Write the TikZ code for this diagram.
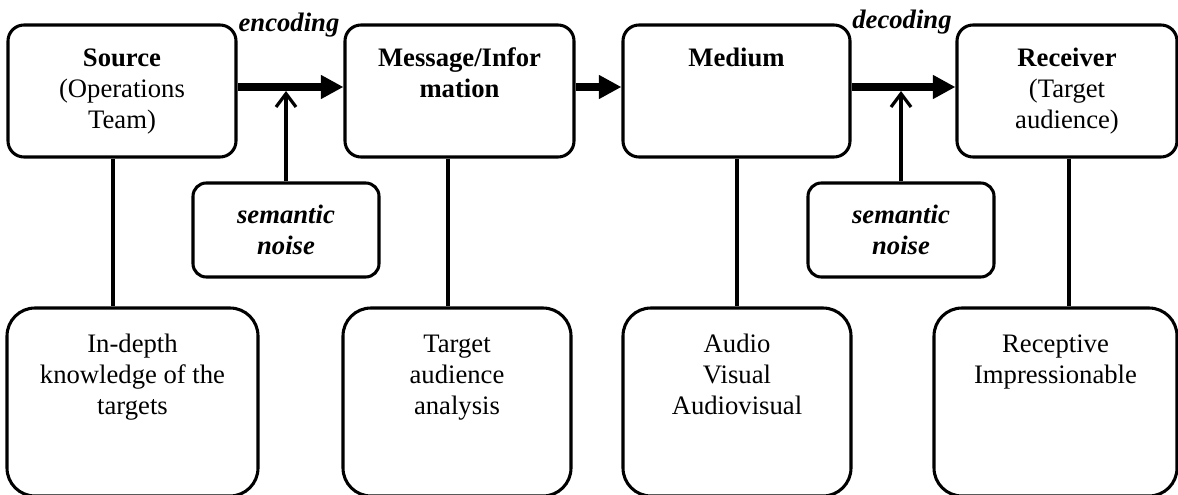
\documentclass[tikz,border=0pt]{standalone}
\usepackage{fontspec}
\setmainfont{Liberation Serif}
\usetikzlibrary{arrows.meta}
\begin{document}
\begin{tikzpicture}[x=0.75pt,y=-0.75pt,
  every node/.style={font=\fontsize{20pt}{23.25pt}\selectfont},
  topbox/.style={draw,line width=2.3pt,rounded corners=12pt,minimum height=99pt,inner sep=0pt},
  botbox/.style={draw,line width=2.3pt,rounded corners=21pt,minimum height=141pt,inner sep=0pt},
  noisebox/.style={draw,line width=2.3pt,rounded corners=10pt,minimum width=139.5pt,minimum height=70.5pt,inner sep=0pt,align=center,font=\fontsize{20pt}{23.25pt}\selectfont\bfseries\itshape},
  boxtext/.style={anchor=north,inner sep=0pt,align=center},
  bigarrow/.style={line width=6pt,-{Triangle[length=17pt,width=17pt]}},
  link/.style={line width=2.4pt},
  noisearrow/.style={line width=2.4pt,-{Straight Barb[length=10pt,width=15pt]}},
  steplabel/.style={inner sep=0pt,anchor=base,font=\fontsize{20pt}{23.25pt}\selectfont\bfseries\itshape}]
\useasboundingbox (0,0) rectangle (1178,495);
\clip (0,0) rectangle (1178,495);
% top boxes
\node[topbox,minimum width=171pt] (src) at (122,91) {};
\node[topbox,minimum width=171.75pt] (msg) at (459.5,91) {};
\node[topbox,minimum width=170.25pt] (med) at (736.5,91) {};
\node[topbox,minimum width=165pt] (rcv) at (1067,91) {};
\node[boxtext] (srct) at ([yshift=-17.25pt]src.north) {\rule{0pt}{15pt}\textbf{Source}\\(Operations\\Team)};
\node[boxtext] (msgt) at ([yshift=-17.25pt]msg.north) {\rule{0pt}{15pt}\textbf{Message/Infor}\\\textbf{mation}};
\node[boxtext] (medt) at ([yshift=-17.25pt]med.north) {\rule{0pt}{15pt}\textbf{Medium}};
\node[boxtext] (rcvt) at ([yshift=-17.25pt]rcv.north) {\rule{0pt}{15pt}\textbf{Receiver}\\(Target\\audience)};
% bottom boxes
\node[botbox,minimum width=188.25pt] (b1) at (132.5,402) {};
\node[botbox,minimum width=171pt] (b2) at (457,402) {};
\node[botbox,minimum width=171pt] (b3) at (737,402) {};
\node[botbox,minimum width=182.25pt] (b4) at (1055.5,402) {};
\node[boxtext] (b1t) at ([yshift=-19.5pt]b1.north) {\rule{0pt}{15pt}In-depth\\knowledge of the\\targets};
\node[boxtext] (b2t) at ([yshift=-19.5pt]b2.north) {\rule{0pt}{15pt}Target\\audience\\analysis};
\node[boxtext] (b3t) at ([yshift=-19.5pt]b3.north) {\rule{0pt}{15pt}Audio\\Visual\\Audiovisual};
\node[boxtext] (b4t) at ([yshift=-19.5pt]b4.north) {\rule{0pt}{15pt}Receptive\\Impressionable};
% noise boxes
\node[noisebox] (n1) at (286,230) {semantic\\noise};
\node[noisebox] (n2) at (901,230) {semantic\\noise};
% labels
\node[steplabel] (enc) at (289,31.5) {encoding};
\node[steplabel] (dec) at (902,28.5) {decoding};
% helper coordinates
\coordinate (yarr) at (0,87);
\coordinate (ybar) at (0,91);
\coordinate (x1) at (113,0);
\coordinate (x2) at (448,0);
\coordinate (x3) at (737,0);
\coordinate (x4) at (1069,0);
% main arrows
\draw[bigarrow] (src.east |- yarr) -- (msg.west |- yarr);
\draw[bigarrow] (msg.east |- yarr) -- (med.west |- yarr);
\draw[bigarrow] (med.east |- yarr) -- (rcv.west |- yarr);
% noise arrows
\draw[noisearrow] (n1.north) -- (n1.north |- ybar);
\draw[noisearrow] (n2.north) -- (n2.north |- ybar);
% vertical links
\draw[link] (src.south -| x1) -- (b1.north -| x1);
\draw[link] (msg.south -| x2) -- (b2.north -| x2);
\draw[link] (med.south -| x3) -- (b3.north -| x3);
\draw[link] (rcv.south -| x4) -- (b4.north -| x4);
\end{tikzpicture}
\end{document}
